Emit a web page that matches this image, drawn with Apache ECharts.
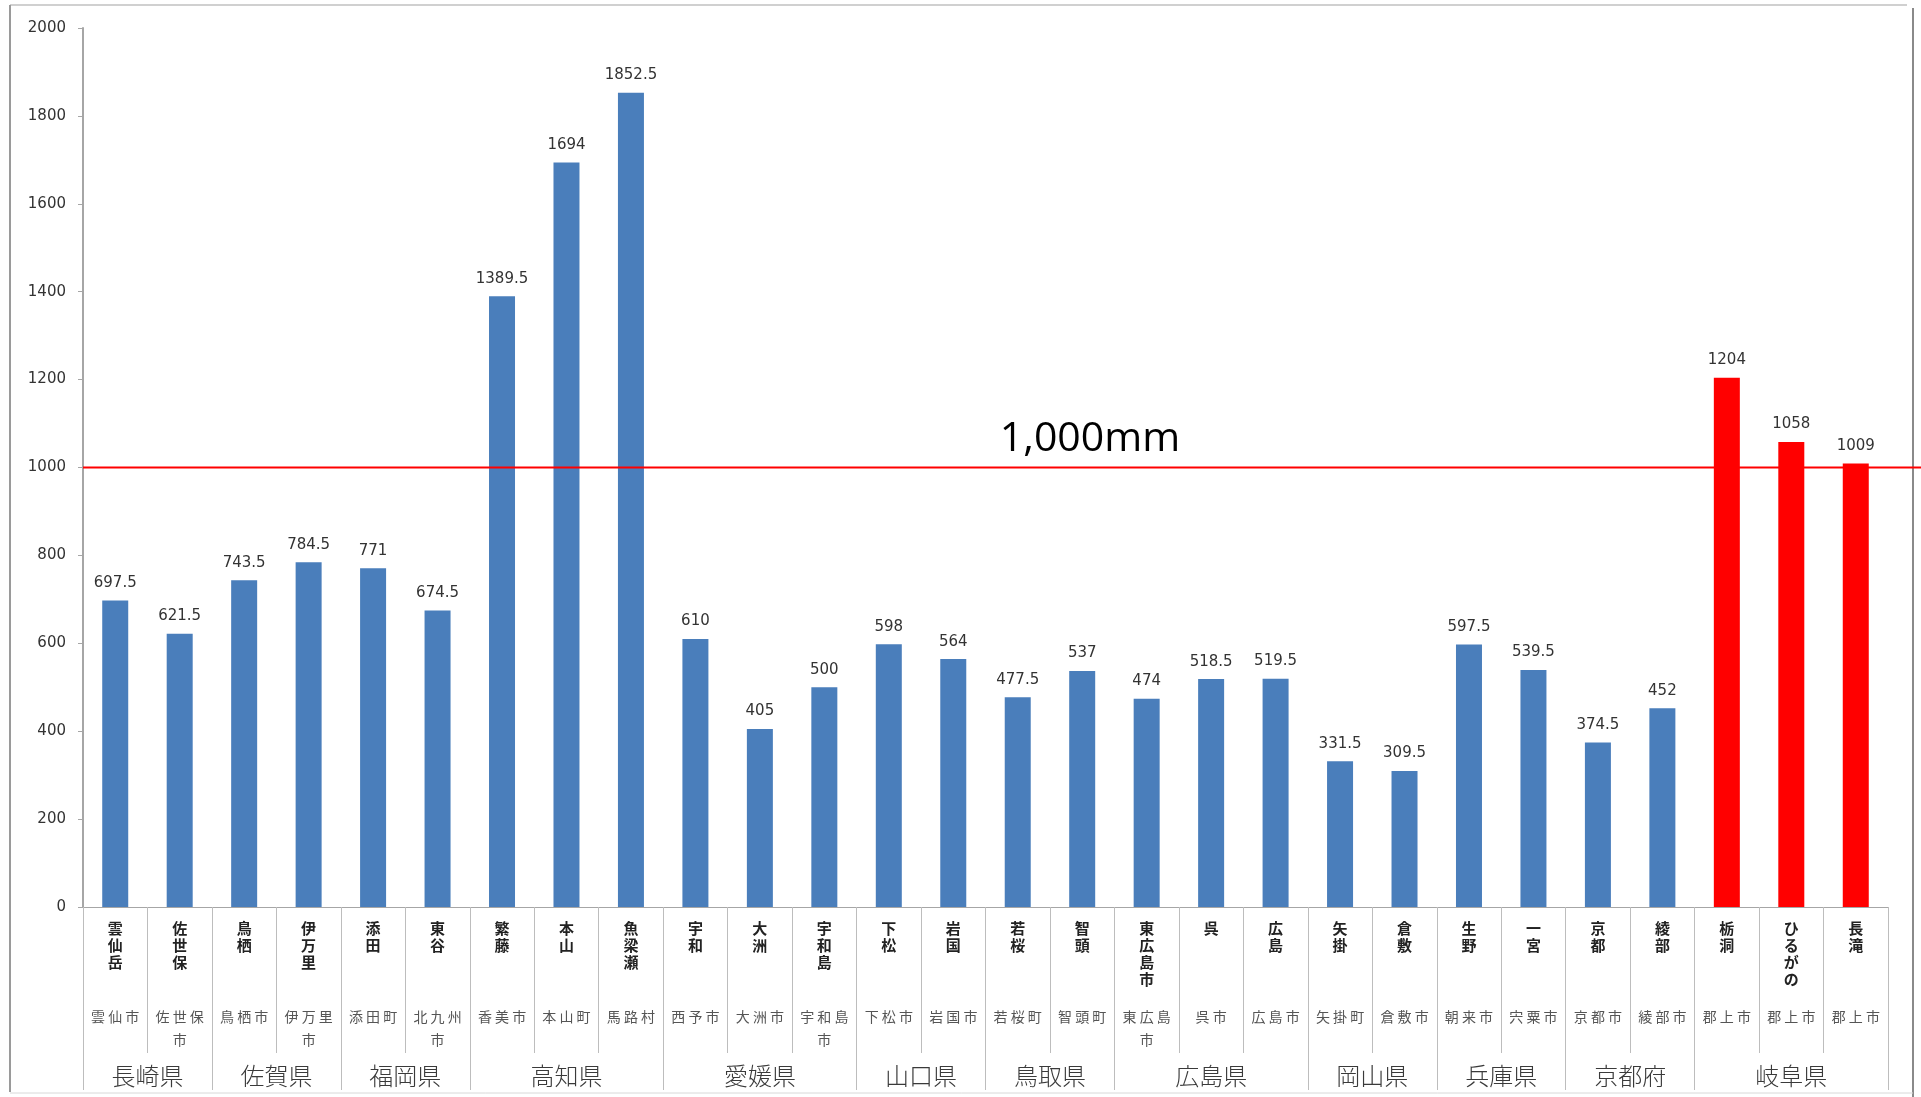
<!DOCTYPE html>
<html>
<head>
<meta charset="utf-8">
<script src="https://cdn.jsdelivr.net/npm/echarts@6/dist/echarts.min.js"></script>
<style>
  html, body { margin: 0; padding: 0; background: #fff; }
  #main { width: 1921px; height: 1097px; }
</style>
</head>
<body>
<div id="main"></div>
<script>
// 観測地点（上段の太字）
const stations = ['雲仙岳', '佐世保', '鳥栖', '伊万里', '添田', '東谷', '繁藤', '本山', '魚梁瀬',
  '宇和', '大洲', '宇和島', '下松', '岩国', '若桜', '智頭', '東広島市', '呉', '広島',
  '矢掛', '倉敷', '生野', '一宮', '京都', '綾部', '栃洞', 'ひるがの', '長滝']
// 市町村（中段）
const cities = ['雲仙市', '佐世保市', '鳥栖市', '伊万里市', '添田町', '北九州市', '香美市', '本山町', '馬路村',
  '西予市', '大洲市', '宇和島市', '下松市', '岩国市', '若桜町', '智頭町', '東広島市', '呉市', '広島市',
  '矢掛町', '倉敷市', '朝来市', '宍粟市', '京都市', '綾部市', '郡上市', '郡上市', '郡上市']
// 雨量 (mm)
const rainfall = [697.5, 621.5, 743.5, 784.5, 771, 674.5, 1389.5, 1694, 1852.5,
  610, 405, 500, 598, 564, 477.5, 537, 474, 518.5, 519.5,
  331.5, 309.5, 597.5, 539.5, 374.5, 452, 1204, 1058, 1009]
// 府県（下段）と地点数
const prefectures = ['長崎県', '佐賀県', '福岡県', '高知県', '愛媛県', '山口県', '鳥取県', '広島県', '岡山県', '兵庫県', '京都府', '岐阜県']
const prefectureSizes = [2, 2, 2, 3, 3, 2, 2, 3, 2, 2, 2, 3]
const highlightPrefecture = '岐阜県'
const yMin = 0
const yMax = 2000
const yStep = 200
const thresholdValue = 1000
const thresholdLabel = '1,000mm'

const NUM_FONT = 'DejaVu Sans'
const JP_FONT = 'Noto Sans CJK JP'

// 各地点の府県
const stationPref = []
prefectures.forEach((p, i) => {
  for (let k = 0; k < prefectureSizes[i]; k++) stationPref.push(p)
})

// 府県軸: 半区間ごとの点 (boundaryGap:false)
function buildGroupAxis() {
  const labels = new Array(stations.length * 2 + 1).fill('')
  const edges = new Set([0])
  let start = 0
  prefectures.forEach((name, i) => {
    const n = prefectureSizes[i]
    labels[start * 2 + n] = name
    start += n
    edges.add(start * 2)
  })
  return { labels, edges }
}
const groupAxis = buildGroupAxis()

function cityText(name) {
  const chars = name.split('')
  const first = chars.slice(0, 3).join(' ')
  const rest = chars.slice(3).join(' ')
  return rest ? first + '\n' + rest : first
}

const chart = echarts.init(document.getElementById('main'))

const option = {
  animation: false,
  backgroundColor: '#fff',
  grid: {
    left: 83,
    right: 33,
    top: 28,
    bottom: 190,
    outerBoundsMode: 'none'
  },
  xAxis: [
    {
      type: 'category',
      position: 'bottom',
      data: stations,
      axisLine: { show: true, lineStyle: { color: '#a6a6a6', width: 1 } },
      axisTick: { show: true, interval: 0, length: 146, lineStyle: { color: '#bdbdbd' } },
      axisLabel: {
        interval: 0,
        margin: 13,
        formatter: v => v.split('').join('\n'),
        fontFamily: JP_FONT,
        fontWeight: 'bold',
        fontSize: 15,
        lineHeight: 17,
        color: '#222'
      },
      splitLine: { show: false }
    },
    {
      type: 'category',
      position: 'bottom',
      offset: 0,
      data: cities.map((c, i) => i + ':' + c),
      axisLine: { show: false },
      axisTick: { show: false },
      axisLabel: {
        interval: 0,
        margin: 98,
        formatter: v => cityText(v.split(':')[1]),
        fontFamily: JP_FONT,
        fontSize: 14,
        lineHeight: 23,
        color: '#555'
      },
      splitLine: { show: false }
    },
    {
      type: 'category',
      position: 'bottom',
      offset: 0,
      boundaryGap: false,
      data: groupAxis.labels.map((_, i) => 'p' + i),
      axisLine: { show: false },
      axisTick: {
        show: true,
        interval: index => groupAxis.edges.has(index),
        length: 183,
        lineStyle: { color: '#bdbdbd' }
      },
      axisLabel: {
        interval: 0,
        margin: 157,
        formatter: v => groupAxis.labels[+v.slice(1)],
        fontFamily: JP_FONT,
        fontWeight: 300,
        fontSize: 24,
        color: '#3a3a3a'
      },
      splitLine: { show: false }
    }
  ],
  yAxis: {
    type: 'value',
    min: yMin,
    max: yMax,
    interval: yStep,
    axisLine: { show: true, lineStyle: { color: '#a6a6a6', width: 2 } },
    axisTick: { show: true, length: 5, lineStyle: { color: '#a6a6a6' } },
    axisLabel: {
      margin: 17,
      formatter: v => String(v),
      fontFamily: NUM_FONT,
      fontSize: 15,
      color: '#333'
    },
    splitLine: { show: false }
  },
  series: [
    {
      type: 'bar',
      xAxisIndex: 0,
      yAxisIndex: 0,
      barWidth: 26,
      data: rainfall.map((v, i) => ({
        value: v,
        itemStyle: { color: stationPref[i] === highlightPrefecture ? '#ff0000' : '#4a7ebb' }
      })),
      label: {
        show: true,
        position: 'top',
        distance: 10,
        fontFamily: NUM_FONT,
        fontSize: 15,
        color: '#333'
      }
    }
  ]
}

chart.setOption(option)

// 1,000mm の基準線（y は軸から換算）
const yLine = chart.convertToPixel({ yAxisIndex: 0 }, thresholdValue)
const W = chart.getWidth()
const H = chart.getHeight()

chart.setOption({
  graphic: [
    { type: 'line', z: 1, shape: { x1: 10, y1: 5, x2: 1907, y2: 5 }, style: { stroke: '#d0d0d0', lineWidth: 2 } },
    { type: 'line', z: 1, shape: { x1: 10, y1: 5, x2: 10, y2: 1092 }, style: { stroke: '#9a9a9a', lineWidth: 2 } },
    { type: 'line', z: 1, shape: { x1: 1913, y1: 8, x2: 1913, y2: H }, style: { stroke: '#8a8a8a', lineWidth: 2 } },
    { type: 'line', z: 1, shape: { x1: 10, y1: 1093, x2: 1913, y2: 1093 }, style: { stroke: '#d8d8d8', lineWidth: 1 } },
    {
      type: 'line',
      z: 10,
      shape: { x1: 83, y1: yLine, x2: W, y2: yLine },
      style: { stroke: '#ff0000', lineWidth: 2 }
    },
    {
      type: 'text',
      z: 10,
      x: 1090,
      y: yLine - 28,
      style: {
        text: thresholdLabel,
        fontFamily: 'Open Sans',
        fontSize: 41,
        fill: '#000',
        align: 'center',
        verticalAlign: 'middle'
      }
    }
  ]
})
</script>
</body>
</html>
